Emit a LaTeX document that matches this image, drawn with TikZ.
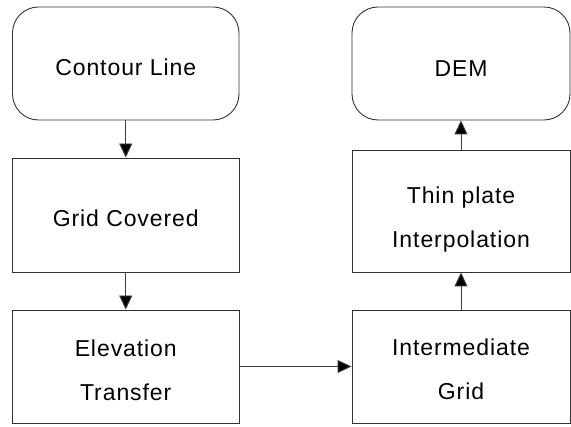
\documentclass[tikz,border=0pt]{standalone}
\usepackage{fontspec}
\setmainfont{Liberation Sans}[LetterSpace=4]
\usetikzlibrary{arrows.meta}
\begin{document}
\begin{tikzpicture}[x=1pt,y=-1pt,
  box/.style={draw=black!80, line width=0.9pt, minimum width=#1, inner sep=0pt, align=center,
    font=\fontsize{23}{44}\selectfont},
  box/.default=226.5,
  term/.style={box=#1, rounded corners=26pt},
  term/.default=226.5,
  conn/.style={draw=black!75, line width=0.9pt, -{Triangle[length=14pt,width=13pt,fill=black]}}]
\useasboundingbox (0,0) rectangle (571,427);
\node[term, minimum height=113] (cl) at (125.75,63.5) {\rule{0pt}{25pt}Contour Line};
\node[box, minimum height=114] (gc) at (125.75,215) {\rule{0pt}{24pt}Grid Covered};
\node[box, minimum height=113] (et) at (125.75,366.5) {\rule{0pt}{24pt}Elevation\\Transfer};
\node[term=218, minimum height=113] (dem) at (461,63.5) {\rule{0pt}{27pt}DEM};
\node[box=218, minimum height=122] (tp) at (461,211) {\rule{0pt}{33pt}Thin plate\\Interpolation};
\node[box=218, minimum height=113] (ig) at (461,366.5) {\rule{0pt}{22pt}Intermediate\\Grid};
\draw[conn] (cl) -- (gc);
\draw[conn] (gc) -- (et);
\draw[conn] (et) -- (ig);
\draw[conn] (ig) -- (tp);
\draw[conn] (tp) -- (dem);
\end{tikzpicture}
\end{document}
